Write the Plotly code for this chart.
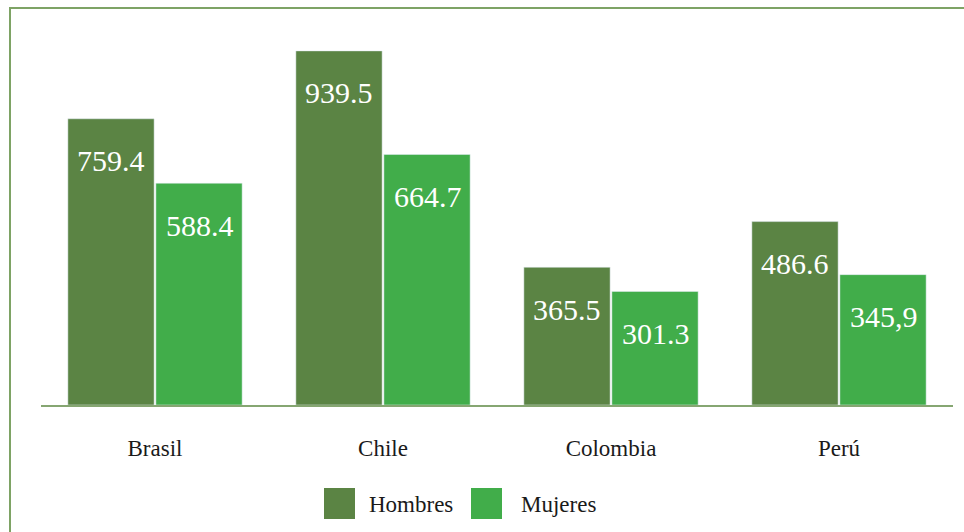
import plotly.graph_objects as go

# Data
paises = ["Brasil", "Chile", "Colombia", "Perú"]
hombres = [759.4, 939.5, 365.5, 486.6]
mujeres = [588.4, 664.7, 301.3, 345.9]
etiquetas_hombres = ["759.4", "939.5", "365.5", "486.6"]
etiquetas_mujeres = ["588.4", "664.7", "301.3", "345,9"]

COLOR_H = "#5b8444"
COLOR_M = "#41ad4a"
FONT = "'Liberation Serif', 'Times New Roman', 'DejaVu Serif', serif"

W, H = 964, 532
M_L, M_R, M_T, M_B = 41, 11, 10, 127
PW, PH = W - M_L - M_R, H - M_T - M_B


def px_x(px):
    return (px - M_L) / PW


def px_y(py):
    return (H - M_B - py) / PH


fig = go.Figure()
fig.add_trace(go.Bar(x=paises, y=hombres, name="Hombres", marker_color=COLOR_H))
fig.add_trace(go.Bar(x=paises, y=mujeres, name="Mujeres", marker_color=COLOR_M))

annotations = []
for serie, etiquetas, shift in ((hombres, etiquetas_hombres, -44.5),
                                (mujeres, etiquetas_mujeres, 44.5)):
    for pais, v, t in zip(paises, serie, etiquetas):
        annotations.append(dict(
            x=pais, y=v, xref="x", yref="y", text=t, showarrow=False,
            xshift=shift, yshift=-42, yanchor="middle",
            font=dict(family=FONT, size=30, color="white"),
        ))

# Legend drawn as squares + labels below the axis
legend_items = [("Hombres", COLOR_H, 324, 367), ("Mujeres", COLOR_M, 471, 519)]
shapes = []
for nombre, color, sx, tx in legend_items:
    shapes.append(dict(type="rect", xref="paper", yref="paper",
                       x0=px_x(sx), x1=px_x(sx + 31), y0=px_y(519), y1=px_y(488),
                       fillcolor=color, line=dict(width=0)))
    annotations.append(dict(x=px_x(tx), y=px_y(504), xref="paper", yref="paper",
                            text=nombre, showarrow=False, xanchor="left",
                            yanchor="middle",
                            font=dict(family=FONT, size=23, color="#1a1a1a")))

# Frame lines (left and top)
FRAME = "#7ea365"
shapes.append(dict(type="line", xref="paper", yref="paper",
                   x0=px_x(10), x1=px_x(10), y0=px_y(8), y1=px_y(540),
                   line=dict(color=FRAME, width=2)))
shapes.append(dict(type="line", xref="paper", yref="paper",
                   x0=px_x(9), x1=px_x(970), y0=px_y(8), y1=px_y(8),
                   line=dict(color=FRAME, width=2)))

fig.update_layout(
    width=W, height=H,
    margin=dict(l=M_L, r=M_R, t=M_T, b=M_B),
    paper_bgcolor="white", plot_bgcolor="white",
    barmode="group", bargap=0.228, bargroupgap=0.02,
    showlegend=False,
    shapes=shapes, annotations=annotations,
    font=dict(family=FONT, color="#1a1a1a"),
)
fig.update_xaxes(
    showline=True, linecolor="#86a672", linewidth=2,
    showgrid=False, ticks="outside", ticklen=21, tickcolor="rgba(0,0,0,0)",
    tickfont=dict(family=FONT, size=23, color="#1a1a1a"),
)
fig.update_yaxes(range=[0, 1048], visible=False, showgrid=False)

fig.write_html("out.html")
